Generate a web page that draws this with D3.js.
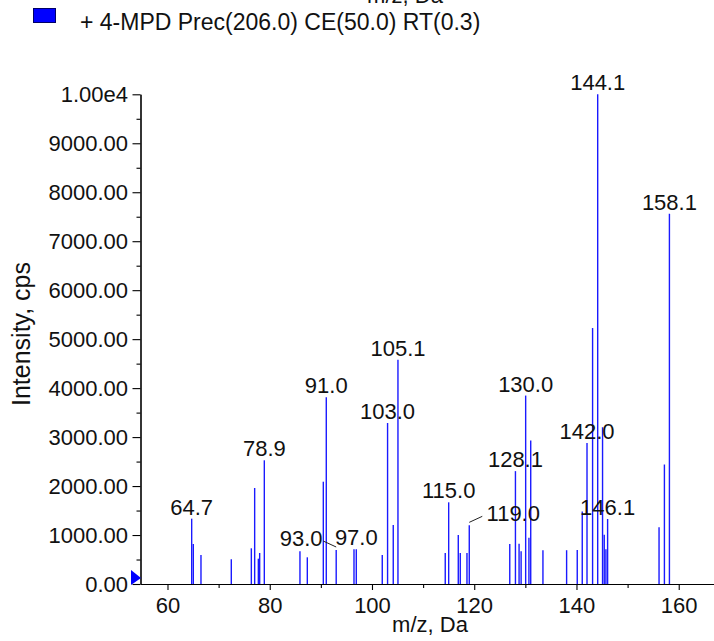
<!DOCTYPE html>
<html>
<head>
<meta charset="utf-8">
<script src="https://cdn.jsdelivr.net/npm/d3@7/dist/d3.min.js"></script>
<style>
    body { margin: 0; background: #fff; }
    svg { display: block; font-family: "Liberation Sans", Arial, sans-serif; }
    text { fill: #111; }
</style>
</head>
<body>
<div id="chart"></div>
<script>
// peak list (m/z, intensity in cps)
const mz = [64.73, 65.05, 66.55, 72.48, 76.4, 77.05, 77.77, 78.03, 78.94, 85.91,
    87.35, 90.48, 91.06, 93.0, 96.48, 96.93, 102.01, 103.05, 104.16, 105.08,
    114.33, 115.0, 116.88, 117.27, 118.58, 119.03, 126.95, 128.06, 128.77, 129.17,
    130.06, 130.7, 131.05, 133.44, 138.07, 140.15, 141.13, 142.06, 143.15, 144.15,
    145.1, 145.43, 145.76, 146.09, 156.15, 157.2, 158.18];
const intensity = [1334, 817, 592, 504, 729, 1960, 517, 633, 2526, 667,
    545, 2089, 3815, 694, 708, 708, 592, 3288, 1205, 4581,
    633, 1668, 1000, 633, 633, 1198, 815, 2305, 820, 670,
    3848, 945, 2930, 688, 690, 694, 1478, 2881, 5227, 10000,
    3201, 1005, 712, 1327, 1160, 2440, 7560];
const peakLabels = ['64.7', '78.9', '91.0', '93.0', '97.0', '103.0', '105.1', '115.0',
    '119.0', '128.1', '130.0', '142.0', '144.1', '146.1', '158.1'];

const xMajorTicks = [60, 80, 100, 120, 140, 160];
const xMinorTicks = [70, 90, 110, 130, 150];
const yMajorTicks = [0, 1000, 2000, 3000, 4000, 5000, 6000, 7000, 8000, 9000, 10000];
const yTickLabels = ['0.00', '1000.00', '2000.00', '3000.00', '4000.00', '5000.00',
    '6000.00', '7000.00', '8000.00', '9000.00', '1.00e4'];
const yMinorTicks = [500, 1500, 2500, 3500, 4500, 5500, 6500, 7500, 8500, 9500];

const seriesName = '+ 4-MPD Prec(206.0) CE(50.0) RT(0.3)';

const width = 714;
const height = 641;
const left = 140.5;
const baseY = 584;
const topY = 94.3;

const svg = d3.select('#chart')
    .append('svg')
    .attr('width', width)
    .attr('height', height);

const x = d3.scaleLinear().domain([54.72, 166.9]).range([left, width]);
const y = d3.scaleLinear().domain([0, 10000]).range([baseY, topY]);

// axis title of the panel above, only its lower edge shows
svg.append('text')
    .attr('x', 405)
    .attr('y', 3)
    .attr('text-anchor', 'middle')
    .style('font-size', '22px')
    .text('m/z, Da');

// legend
svg.append('rect')
    .attr('x', 33.5).attr('y', 8.5)
    .attr('width', 22).attr('height', 14)
    .attr('fill', '#0000ff')
    .attr('stroke', '#000066');

svg.append('text')
    .attr('x', 80).attr('y', 30)
    .style('font-size', '23px')
    .text(seriesName);

// peaks
const peaks = mz.map((m, i) => ({ m: m, v: intensity[i] }));

svg.append('g')
    .selectAll('line')
    .data(peaks)
    .enter()
    .append('line')
    .attr('x1', d => x(d.m))
    .attr('x2', d => x(d.m))
    .attr('y1', y(0))
    .attr('y2', d => y(d.v))
    .attr('stroke', '#1a1aff')
    .attr('stroke-width', 1.4);

// axes
const yMinor = svg.append('g')
    .attr('transform', `translate(${left},0)`)
    .call(d3.axisLeft(y).tickValues(yMinorTicks).tickSize(4).tickSizeOuter(0).tickFormat(''));
const yMajor = svg.append('g')
    .attr('transform', `translate(${left},0)`)
    .call(d3.axisLeft(y).tickValues(yMajorTicks).tickSize(8).tickSizeOuter(0).tickPadding(4.5)
        .tickFormat((d, i) => yTickLabels[i]));

const xMinor = svg.append('g')
    .attr('transform', `translate(0,${baseY})`)
    .call(d3.axisBottom(x).tickValues(xMinorTicks).tickSize(4).tickSizeOuter(0).tickFormat(''));
const xMajor = svg.append('g')
    .attr('transform', `translate(0,${baseY})`)
    .call(d3.axisBottom(x).tickValues(xMajorTicks).tickSize(6).tickSizeOuter(0).tickPadding(7));

[yMinor, yMajor, xMinor, xMajor].forEach(g => {
    g.selectAll('path, line').attr('stroke', '#000').attr('stroke-width', 1.1);
    g.selectAll('text').style('font-size', '22px').attr('fill', '#111').style('font-family', null);
});

// zero marker
svg.append('path')
    .attr('d', `M131,${baseY - 14} L141,${baseY - 6} L131,${baseY + 1} Z`)
    .attr('fill', '#0000ff');

// axis titles
svg.append('text')
    .attr('x', 430).attr('y', 632)
    .attr('text-anchor', 'middle')
    .style('font-size', '22px')
    .text('m/z, Da');

svg.append('text')
    .attr('transform', 'translate(30,334) rotate(-90)')
    .attr('text-anchor', 'middle')
    .style('font-size', '25px')
    .text('Intensity, cps');

// peak labels (two of them are pushed aside with a leader line)
const labelShift = { '93.0': -35, '119.0': 44 };

peakLabels.forEach(lbl => {
    const target = +lbl;
    const p = peaks.reduce((a, b) => Math.abs(b.m - target) < Math.abs(a.m - target) ? b : a);
    const px = x(p.m);
    const py = y(p.v);
    const dx = labelShift[lbl] || 0;

    svg.append('text')
        .attr('x', px + dx)
        .attr('y', py - 4)
        .attr('text-anchor', 'middle')
        .style('font-size', '22px')
        .text(lbl);

    if (dx !== 0) {
        const dir = dx < 0 ? -1 : 1;
        svg.append('line')
            .attr('x1', px).attr('y1', py - 3)
            .attr('x2', px + dir * 13).attr('y2', py - 9)
            .attr('stroke', '#222')
            .attr('stroke-width', 1);
    }
});
</script>
</body>
</html>
